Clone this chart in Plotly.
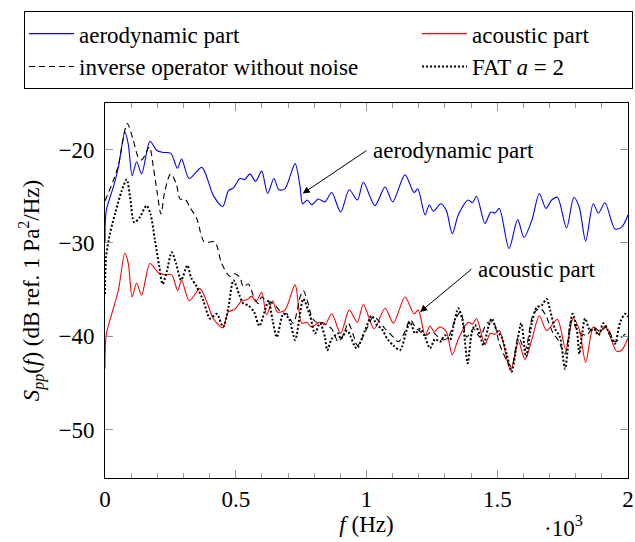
import plotly.graph_objects as go

# ---- data (frequency in Hz, level in dB) ----
aero_f = [0, 5, 32, 51, 76, 89, 104, 121, 140, 172, 198, 223, 252, 277, 293, 322, 370, 414, 450, 472,
          491, 516, 535, 554, 576, 599, 622, 646, 665, 688, 727, 746, 756, 774, 790, 816, 841, 867, 901, 934,
          965, 988, 1032, 1071, 1100, 1147, 1182, 1196, 1224, 1240, 1256, 1284, 1305, 1328, 1351, 1389, 1405, 1421, 1453, 1475,
          1491, 1508, 1545, 1578, 1602, 1632, 1661, 1686, 1708, 1730, 1765, 1793, 1814, 1838, 1867, 1887, 1912, 1950, 1976, 2000]
aero_v = [-30.0, -26.5, -24.0, -21.9, -18.1, -19.4, -22.8, -21.3, -22.6, -19.1, -20.1, -20.3, -20.4, -22.0, -21.0, -23.1, -21.9, -24.9, -26.1, -24.4,
          -24.1, -23.1, -23.2, -22.6, -23.4, -22.3, -24.7, -23.1, -24.3, -24.2, -21.5, -24.0, -25.8, -25.4, -25.9, -25.3, -25.6, -24.6, -26.7, -24.3,
          -25.4, -23.5, -26.0, -24.0, -25.6, -22.7, -24.6, -24.2, -27.0, -25.9, -26.6, -25.8, -26.5, -29.0, -27.0, -25.4, -25.7, -25.0, -27.9, -26.7,
          -26.8, -26.3, -30.6, -27.5, -29.4, -27.6, -24.7, -26.3, -25.4, -25.1, -28.4, -25.1, -26.2, -29.8, -25.8, -26.8, -25.7, -28.5, -28.3, -27.0]

ac_f = [0, 5, 26, 51, 76, 89, 104, 121, 140, 172, 204, 229, 255, 278, 293, 322, 363, 389, 414, 450,
        472, 497, 523, 542, 561, 577, 599, 618, 641, 659, 688, 727, 752, 771, 790, 822, 841, 867, 901, 934,
        965, 988, 1029, 1071, 1103, 1147, 1182, 1198, 1224, 1243, 1258, 1281, 1305, 1328, 1351, 1389, 1405, 1421, 1453, 1473,
        1491, 1508, 1551, 1581, 1606, 1632, 1661, 1689, 1730, 1762, 1790, 1814, 1838, 1867, 1887, 1912, 1956, 1976, 2000]
ac_v = [-43.5, -39.8, -37.6, -35.1, -31.1, -32.2, -35.8, -34.3, -35.6, -32.2, -33.2, -33.4, -33.4, -35.1, -34.0, -36.2, -34.9, -36.3, -38.1, -39.1,
        -37.4, -37.1, -36.2, -36.1, -35.7, -36.3, -35.3, -37.7, -36.2, -37.4, -37.2, -34.5, -38.6, -38.5, -39.0, -38.5, -38.8, -37.6, -39.7, -37.2,
        -38.5, -36.6, -39.2, -37.0, -38.6, -35.8, -37.6, -37.2, -39.9, -38.9, -39.5, -39.0, -39.5, -42.0, -40.3, -38.5, -38.7, -38.1, -40.9, -39.7,
        -39.8, -39.4, -43.7, -40.6, -42.5, -40.4, -37.8, -39.4, -38.2, -41.4, -38.1, -39.3, -42.8, -39.0, -39.8, -38.9, -41.6, -41.5, -40.2]

inv_f = [0, 32, 51, 85, 108, 127, 140, 153, 170, 185, 200, 214, 229, 251, 272, 287, 306, 325, 351, 380,
         420, 446, 478, 497, 516, 529, 548, 567, 586, 599, 618, 644, 676, 695, 720, 746, 758, 777, 793, 816,
         828, 847, 867, 892, 911, 930, 950, 965, 1001, 1026, 1045, 1071, 1103, 1122, 1147, 1167, 1186, 1205, 1228, 1250,
         1275, 1294, 1313, 1338, 1360, 1383, 1409, 1434, 1460, 1485, 1508, 1536, 1555, 1581, 1606, 1638, 1664, 1686, 1714, 1733,
         1759, 1784, 1810, 1842, 1867, 1893, 1918, 1950, 1976, 2000]
inv_v = [-25.5, -23.3, -21.7, -17.2, -19.0, -20.8, -21.1, -20.6, -19.7, -21.9, -24.7, -26.9, -24.4, -22.6, -23.6, -25.3, -25.3, -26.2, -27.4, -29.9,
         -29.9, -32.2, -33.6, -33.3, -33.7, -34.7, -34.4, -35.6, -36.5, -35.8, -36.2, -36.5, -37.5, -37.6, -38.6, -35.8, -35.1, -36.5, -38.1, -38.6,
         -38.5, -38.8, -39.2, -40.6, -39.9, -38.6, -39.9, -41.0, -39.2, -37.9, -38.3, -39.2, -40.1, -40.6, -39.5, -38.2, -39.0, -39.5, -39.9, -39.5,
         -40.1, -40.4, -40.1, -38.3, -37.4, -40.1, -39.2, -40.1, -38.6, -38.5, -40.8, -42.6, -43.3, -40.1, -41.5, -37.6, -37.0, -37.8, -39.7, -40.4,
         -41.9, -38.3, -39.5, -39.9, -39.0, -39.5, -39.0, -40.6, -40.1, -39.5]

fat_f = [0, 4, 19, 38, 64, 83, 96, 112, 134, 159, 174, 191, 208, 220, 236, 255, 272, 291, 315, 329,
         351, 376, 402, 427, 452, 472, 491, 514, 529, 548, 570, 590, 612, 625, 641, 657, 682, 703, 727, 746,
         758, 784, 803, 822, 841, 850, 867, 892, 901, 926, 962, 994, 1020, 1039, 1058, 1080, 1103, 1128, 1153, 1167,
         1186, 1205, 1224, 1243, 1262, 1281, 1300, 1319, 1332, 1351, 1367, 1387, 1402, 1415, 1434, 1447, 1466, 1479, 1498, 1517,
         1536, 1555, 1575, 1592, 1610, 1632, 1651, 1670, 1689, 1702, 1721, 1740, 1759, 1778, 1788, 1804, 1814, 1823, 1836, 1855,
         1870, 1887, 1906, 1932, 1950, 1970, 1989, 2000]
fat_v = [-35.5, -31.5, -29.0, -26.9, -24.4, -23.2, -25.1, -27.8, -27.2, -26.0, -26.9, -29.7, -32.6, -34.4, -33.1, -31.0, -32.2, -34.0, -32.4, -33.7,
         -34.7, -36.2, -38.1, -37.6, -39.0, -36.9, -34.0, -35.6, -36.5, -36.7, -37.4, -38.9, -37.2, -36.2, -38.3, -40.1, -37.6, -38.1, -40.4, -37.6,
         -36.0, -37.8, -39.7, -38.6, -40.1, -41.5, -40.3, -39.7, -40.3, -39.4, -41.3, -39.4, -37.8, -38.8, -39.2, -40.3, -41.0, -41.5, -39.4, -38.5,
         -39.7, -39.2, -40.1, -41.3, -40.3, -40.6, -39.9, -40.4, -39.0, -37.0, -38.3, -42.9, -39.7, -38.8, -39.9, -41.0, -39.0, -38.1, -39.4, -40.1,
         -41.9, -43.8, -40.8, -38.6, -42.2, -38.6, -36.9, -36.7, -36.0, -37.2, -39.2, -40.1, -43.5, -39.0, -37.6, -39.2, -41.9, -40.1, -38.1, -39.4,
         -39.2, -39.9, -38.6, -39.9, -40.8, -38.5, -37.6, -37.9]

x_tickvals = [0, 500, 1000, 1500, 2000]
x_ticktext = ["0", "0.5", "1", "1.5", "2"]
y_tickvals = [-50, -40, -30, -20]

FONT = "Liberation Serif"
FS = 23
TICKC = "rgb(150,150,150)"

fig = go.Figure()
fig.add_trace(go.Scatter(x=aero_f, y=aero_v, mode="lines", name="aerodynamic part",
                         legendgroup="g1", legendwidth=333,
                         line=dict(color="rgb(0,0,255)", width=1.1, shape="spline", smoothing=0.8)))
fig.add_trace(go.Scatter(x=ac_f, y=ac_v, mode="lines", name="acoustic part",
                         legendgroup="g2", legendwidth=155,
                         line=dict(color="rgb(255,0,0)", width=1.1, shape="spline", smoothing=0.8)))
fig.add_trace(go.Scatter(x=inv_f, y=inv_v, mode="lines", name="inverse operator without noise",
                         legendgroup="g1", legendwidth=333,
                         line=dict(color="black", width=1.1, dash="6px,4px", shape="spline", smoothing=0.8)))
fig.add_trace(go.Scatter(x=fat_f, y=fat_v, mode="lines", name="FAT <i>a</i> = 2",
                         legendgroup="g2", legendwidth=155,
                         line=dict(color="black", width=2, dash="2px,2px", shape="spline", smoothing=0.8)))

fig.update_layout(
    width=635, height=542,
    margin=dict(l=105, r=7, t=103, b=64, autoexpand=False),
    paper_bgcolor="white", plot_bgcolor="white",
    font=dict(family=FONT, size=FS, color="black"),
    showlegend=True,
    legend=dict(orientation="h", traceorder="grouped", x=-0.1549, y=1.245,
                xanchor="left", yanchor="top", bordercolor="black", borderwidth=1,
                bgcolor="white", itemwidth=45, tracegroupgap=0,
                font=dict(family=FONT, size=FS, color="black")),
    xaxis=dict(range=[0, 2000], tickvals=x_tickvals, ticktext=x_ticktext,
               showline=True, linecolor="black", linewidth=1, mirror="ticks",
               ticks="inside", ticklen=8, tickcolor=TICKC, tickwidth=1,
               showgrid=False, zeroline=False,
               minor=dict(dtick=100, ticks="inside", ticklen=5, tickcolor=TICKC, showgrid=False),
               title=dict(text="<i>f</i> (Hz)", standoff=4, font=dict(family=FONT, size=FS)),
               tickfont=dict(family=FONT, size=FS)),
    yaxis=dict(range=[-55.2, -15.0], tickvals=y_tickvals,
               showline=True, linecolor="black", linewidth=1, mirror="ticks",
               ticks="inside", ticklen=8, tickcolor=TICKC, tickwidth=1,
               showgrid=False, zeroline=False, ticklabelstandoff=5,
               title=dict(text="<i>S<sub>pp</sub></i>(<i>f</i>) (dB ref. 1 Pa<sup>2</sup>/Hz)",
                          standoff=12, font=dict(family=FONT, size=FS)),
               tickfont=dict(family=FONT, size=FS)),
    annotations=[
        dict(x=756, y=-24.7, ax=1000, ay=-20.1, xref="x", yref="y", axref="x", ayref="y",
             text="aerodynamic part", xanchor="left", yanchor="middle", borderpad=5,
             showarrow=True, arrowhead=2, arrowsize=1.4, arrowwidth=1, arrowcolor="black", standoff=0,
             font=dict(family=FONT, size=FS)),
        dict(x=1205, y=-37.4, ax=1402, ay=-32.8, xref="x", yref="y", axref="x", ayref="y",
             text="acoustic part", xanchor="left", yanchor="middle", borderpad=5,
             showarrow=True, arrowhead=2, arrowsize=1.4, arrowwidth=1, arrowcolor="black", standoff=0,
             font=dict(family=FONT, size=FS)),
        dict(x=0.876, y=-0.13, xref="paper", yref="paper", text="·10<sup>3</sup>", showarrow=False,
             xanchor="center", yanchor="middle", font=dict(family=FONT, size=FS)),
    ],
)

fig.write_html("out.html", config={"displayModeBar": False},
               post_script="document.body.style.margin='0px';")
